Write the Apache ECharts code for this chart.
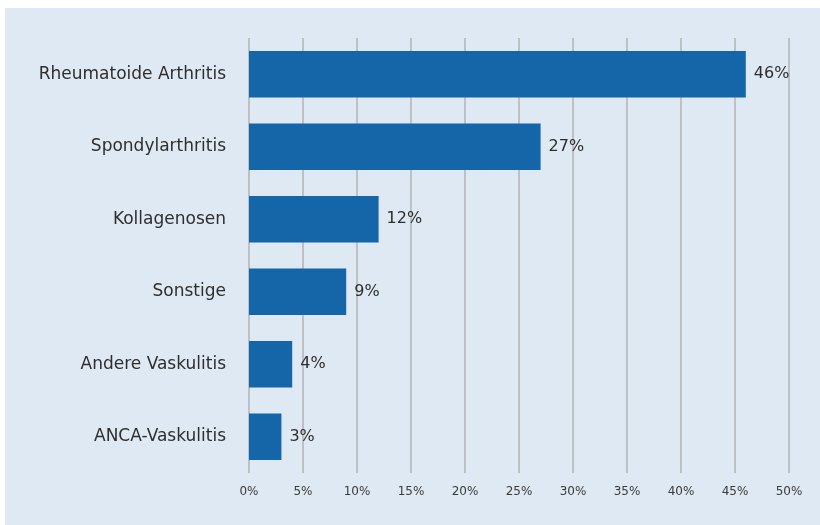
<!DOCTYPE html>
<html>
<head>
<meta charset="utf-8">
<script src="https://cdn.jsdelivr.net/npm/echarts@6/dist/echarts.min.js"></script>
<style>
  html, body { margin: 0; padding: 0; background: #ffffff; }
  #panel { position: absolute; left: 5px; top: 8px; width: 815px; height: 517px; background: #dfe9f4; }
  #chart { position: absolute; left: 0; top: 0; width: 820px; height: 525px; }
</style>
</head>
<body>
<div id="panel"></div>
<div id="chart"></div>
<script>
// Diagnoses, listed top to bottom
const categories = [
  'Rheumatoide Arthritis',
  'Spondylarthritis',
  'Kollagenosen',
  'Sonstige',
  'Andere Vaskulitis',
  'ANCA-Vaskulitis'
];
// Share of patients in percent
const shares = [46, 27, 12, 9, 4, 3];
// Percent axis ticks
const axisMin = 0;
const axisMax = 50;
const axisStep = 5;

const chart = echarts.init(document.getElementById('chart'), null, { renderer: 'canvas' });
chart.setOption({
  backgroundColor: 'transparent',
  animation: false,
  grid: { left: 249, right: 31, top: 38, bottom: 52, containLabel: false },
  xAxis: {
    type: 'value',
    min: axisMin,
    max: axisMax,
    interval: axisStep,
    axisLine: { show: false },
    axisTick: { show: false },
    splitLine: { show: true, lineStyle: { color: '#b3b3b3', width: 1.5 } },
    axisLabel: {
      margin: 13,
      fontFamily: 'DejaVu Sans',
      fontSize: 12,
      color: '#3a3a3a',
      formatter: v => v + '%'
    }
  },
  yAxis: {
    type: 'category',
    inverse: true,
    data: categories,
    axisLine: { show: false },
    axisTick: { show: false },
    splitLine: { show: false },
    axisLabel: {
      margin: 23,
      fontFamily: 'DejaVu Sans',
      fontSize: 17,
      color: '#2e2e2e'
    }
  },
  series: [{
    type: 'bar',
    data: shares,
    barCategoryGap: '36%',
    itemStyle: { color: '#1565a9' },
    label: {
      show: true,
      position: 'right',
      distance: 8,
      fontFamily: 'DejaVu Sans',
      fontSize: 16,
      color: '#2e2e2e',
      formatter: p => p.value + '%'
    }
  }]
});
</script>
</body>
</html>
